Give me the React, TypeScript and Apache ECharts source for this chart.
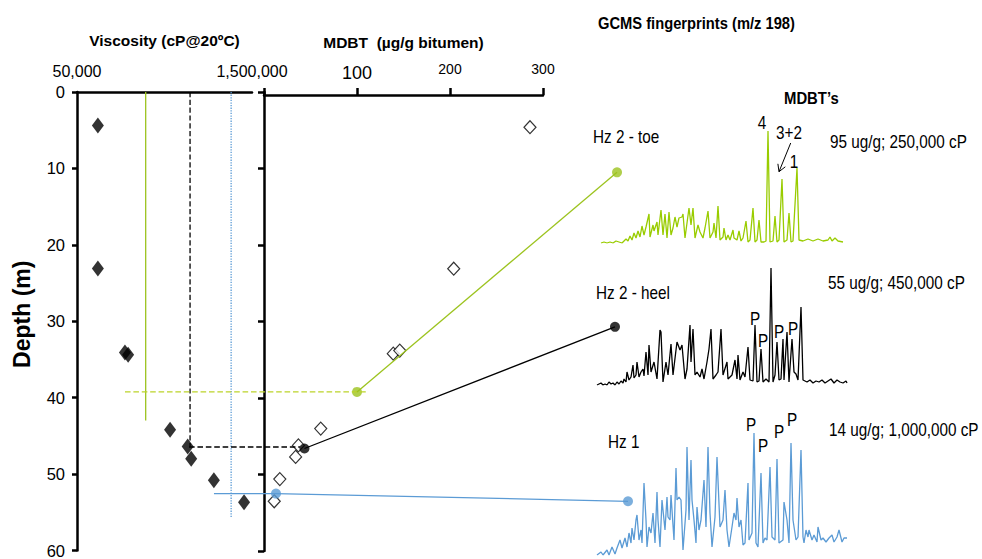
import React, { useEffect, useRef } from 'react';
import * as echarts from 'echarts';

const FONT = "'Liberation Sans', Arial, sans-serif";
const NARROW = 0.85; // horizontal squeeze imitating a condensed face

// ---- Viscosity panel (filled diamonds) ----
const viscDepth = [4.4, 23.1, 34.1, 34.4, 44.2, 46.4, 48.0, 50.8, 53.7];
const viscValue = [75000, 75000, 127000, 135000, 305000, 430000, 460000, 715000, 1285000];
const viscAxisLabels = [50000, 1500000];

// ---- MDBT panel (open diamonds) ----
const mdbtDepth = [4.6, 23.1, 34.2, 33.8, 44.0, 46.2, 47.7, 50.6, 53.5];
const mdbtValue = [286, 204, 139, 146, 61, 37, 34, 17, 11];
const mdbtAxisLabels = [100, 200, 300];

// ---- Samples: toe / heel / Hz 1 ----
const sampleColors = ['#9cc31e', '#000000', '#5b9bd5'];
const guideVisc = [190000, 450000, 1000000];          // vertical guide lines (cP)
const guideBottom = [43, 46.4, 55.7];                 // depth where vertical guide ends
const pickMdbt = [100, 43.5, 12.9];                   // filled dot on MDBT panel
const pickDepth = [39.2, 46.6, 52.5];
const hGuideStart = [-149.5, -80.6, -53.8];           // horizontal guide start (MDBT units, extended)
const hGuideEnd = [111.8, 38.7, 12.9];
const hGuideDepth = [39.2, 46.4, 52.5];
const anchorX = [379.6, 377.4, 391.4];                // fingerprint anchor (MDBT units, extended)
const anchorDepth = [10.5, 30.7, 53.5];

// ---- GCMS fingerprints (m/z 198): [retention offset, intensity] ----
const toeTrace = [[1,0],[4,1],[7,0],[10,1],[13,0],[16,2],[19,1],[22,0],[24,2],[26,4],[28,2],[30,7],[32,3],[34,10],[36,5],[38,12],[40,6],[42,17],[44,8],[46,16],[49,29],[50,6],[53,18],[54,12],[57,21],[58,8],[61,33],[63,8],[65,29],[67,5],[69,31],[71,8],[73,15],[75,26],[77,16],[79,25],[82,26],[83,29],[85,5],[89,35],[91,18],[93,35],[95,5],[98,18],[100,11],[103,5],[105,15],[108,32],[110,5],[113,11],[114,20],[116,5],[118,37],[120,3],[123,6],[124,15],[126,3],[128,8],[130,3],[133,13],[134,5],[137,3],[139,12],[141,2],[143,5],[146,22],[148,1],[150,3],[153,35],[155,1],[157,3],[159,23],[161,1],[164,1],[166,2],[168,112],[170,1],[173,2],[175,27],[177,1],[179,3],[182,64],[184,1],[187,3],[189,30],[191,1],[193,2],[197,75],[199,3],[203,2],[208,4],[213,2],[218,4],[223,2],[228,3],[230,6],[232,2],[235,5],[238,2],[243,1]];
const heelTrace = [[0,0],[4,2],[6,0],[8,1],[10,0],[12,3],[14,1],[16,2],[18,0],[20,3],[22,1],[24,4],[26,2],[27,6],[29,3],[30,13],[32,5],[34,8],[36,20],[37,7],[39,10],[40,23],[42,8],[44,13],[46,16],[47,9],[49,33],[51,10],[52,40],[54,13],[57,23],[60,6],[63,55],[64,53],[66,3],[69,23],[71,10],[74,41],[76,10],[79,35],[80,43],[83,35],[85,40],[88,6],[90,16],[93,60],[94,23],[96,56],[98,10],[100,13],[103,8],[105,16],[107,6],[110,23],[112,36],[114,56],[116,6],[119,10],[121,13],[124,56],[126,10],[130,23],[131,6],[135,10],[138,25],[140,6],[141,30],[143,5],[146,13],[148,8],[151,38],[153,5],[156,4],[158,60],[160,3],[162,4],[164,36],[166,3],[169,6],[172,3],[174,117],[176,3],[178,10],[180,43],[182,5],[184,6],[186,46],[187,5],[190,53],[192,3],[195,46],[197,13],[199,11],[201,5],[204,78],[206,5],[210,3],[213,5],[216,2],[219,4],[222,3],[225,5],[228,2],[231,4],[234,6],[237,2],[240,5],[243,3],[246,2],[249,4],[250,2]];
const hz1Trace = [[0,0],[4,3],[6,0],[10,5],[12,0],[15,8],[18,1],[20,7],[23,15],[25,7],[28,17],[30,8],[32,22],[34,12],[35,27],[37,15],[39,35],[40,40],[42,15],[44,25],[45,12],[47,72],[49,35],[50,8],[52,28],[54,22],[56,42],[58,12],[60,63],[61,35],[63,8],[65,55],[68,25],[70,58],[71,38],[73,35],[74,60],[77,15],[79,87],[80,55],[82,58],[84,55],[86,5],[89,45],[90,108],[92,35],[94,95],[95,55],[97,35],[99,12],[100,48],[102,25],[104,35],[107,75],[109,28],[111,108],[113,42],[115,8],[118,38],[120,98],[123,28],[126,35],[128,65],[130,25],[132,8],[135,28],[137,42],[139,35],[140,57],[142,28],[144,35],[146,10],[148,12],[151,72],[152,15],[155,22],[157,122],[159,12],[161,8],[164,82],[166,12],[168,17],[170,15],[173,88],[175,18],[178,15],[180,96],[182,12],[186,15],[187,53],[190,35],[192,12],[194,112],[196,35],[199,15],[201,18],[204,105],[206,18],[207,12],[209,25],[211,18],[212,25],[215,15],[217,20],[220,13],[221,28],[224,15],[226,17],[229,13],[232,17],[235,20],[237,13],[240,18],[242,25],[245,13],[247,17],[250,17]];
const traceColors = ['#99cc00', '#000000', '#5b9bd5'];

const fmt = (v: number) => Math.round(v).toLocaleString('en-US');

function txt(text: string, x: number, y: number, size: number, align = 'left', bold = false, sx = NARROW) {
  return {
    type: 'text', x, y, scaleX: sx, silent: true,
    style: {
      text, fill: '#000', fontSize: size, fontFamily: FONT, fontWeight: bold ? 'bold' : 'normal',
      textAlign: align, align, textVerticalAlign: 'middle', verticalAlign: 'middle',
    },
  };
}

export default function App() {
  const ref = useRef<HTMLDivElement>(null);
  useEffect(() => {
    document.body.style.margin = '0';
    const chart = echarts.init(ref.current!, null, { renderer: 'svg' });
    const axisLineStyle = { color: '#000', width: 2.5 };

    const series: any[] = [];
    const guideTypes = ['solid', 'dashed', 'dotted'];
    guideVisc.forEach((v, i) => {
      series.push({
        type: 'line', xAxisIndex: 0, yAxisIndex: 0, symbol: 'none', silent: true,
        data: [[v, 0], [v, guideBottom[i]]],
        lineStyle: { color: sampleColors[i], width: 1.3, type: guideTypes[i] },
      });
    });
    const hTypes = ['dashed', 'dashed', 'solid'];
    const hColors = ['#bcd42a', '#000', '#5b9bd5'];
    for (let i = 0; i < 3; i++) {
      series.push({
        type: 'line', xAxisIndex: 2, yAxisIndex: 2, symbol: 'none', silent: true,
        data: [[hGuideStart[i], hGuideDepth[i]], [hGuideEnd[i], hGuideDepth[i]]],
        lineStyle: { color: hColors[i], width: 1.4, type: hTypes[i] },
      });
      series.push({
        type: 'line', xAxisIndex: 2, yAxisIndex: 2, symbol: 'none', silent: true,
        data: [[pickMdbt[i], pickDepth[i]], [anchorX[i], anchorDepth[i]]],
        lineStyle: { color: sampleColors[i], width: 1.3 },
      });
    }
    series.push({
      type: 'scatter', xAxisIndex: 0, yAxisIndex: 0, symbol: 'diamond', symbolSize: [12, 16],
      data: viscValue.map((v, i) => [v, viscDepth[i]]), itemStyle: { color: '#000' },
    });
    series.push({
      type: 'scatter', xAxisIndex: 1, yAxisIndex: 1, symbol: 'diamond', symbolSize: [12, 13],
      data: mdbtValue.map((v, i) => [v, mdbtDepth[i]]),
      itemStyle: { color: '#fff', borderColor: '#000', borderWidth: 1.2 },
    });
    for (let i = 0; i < 3; i++) {
      series.push({
        type: 'scatter', xAxisIndex: 2, yAxisIndex: 2, symbol: 'circle', symbolSize: 10,
        data: [[pickMdbt[i], pickDepth[i]], [anchorX[i], anchorDepth[i]]],
        itemStyle: { color: sampleColors[i] },
      });
    }
    [toeTrace, heelTrace, hz1Trace].forEach((tr, i) => {
      series.push({
        type: 'line', xAxisIndex: 3 + i, yAxisIndex: 3 + i, symbol: 'none', silent: true,
        data: tr, lineStyle: { color: traceColors[i], width: 1.3 },
      });
    });

    const hidden = (gi: number, min: number, max: number, inverse = false) => ({
      gridIndex: gi, type: 'value', min, max, show: false, inverse,
    });

    chart.setOption({
      animation: false,
      backgroundColor: '#fff',
      grid: [
        { left: 77, top: 92, width: 175, height: 459 },
        { left: 264, top: 92, width: 279, height: 459 },
        { left: 78, top: 92, width: 902.1, height: 459 },
        { left: 600, top: 123, width: 243, height: 120 },
        { left: 597, top: 265, width: 250, height: 120 },
        { left: 597, top: 425, width: 250, height: 130 },
      ],
      xAxis: [
        {
          gridIndex: 0, type: 'log', logBase: 10, min: viscAxisLabels[0], max: viscAxisLabels[1], position: 'top',
          axisLine: { onZero: false, lineStyle: axisLineStyle }, axisTick: { show: false }, splitLine: { show: false },
          axisLabel: {
            margin: 13, fontSize: 16, fontFamily: FONT, color: '#000',
            formatter: (v: number) => (viscAxisLabels.some((l) => Math.abs(l - v) < 1) ? fmt(v) : ''),
          },
          name: 'Viscosity (cP@20ºC)', nameLocation: 'middle', nameGap: 44,
          nameTextStyle: { fontWeight: 'bold', fontSize: 15.5, fontFamily: FONT, color: '#000' },
        },
        {
          gridIndex: 1, type: 'value', min: 0, max: 300, interval: 100, position: 'top', offset: -3,
          axisLine: { onZero: false, lineStyle: axisLineStyle },
          axisTick: { show: true, length: 7, lineStyle: { width: 2.5, color: '#000' } },
          splitLine: { show: false },
          axisLabel: {
            margin: 13, color: '#000', fontFamily: FONT,
            formatter: (v: number) => (v === mdbtAxisLabels[0] ? `{b|${v}}` : mdbtAxisLabels.includes(v) ? `{s|${v}}` : ''),
            rich: {
              b: { fontSize: 18, fontFamily: FONT, color: '#000' },
              s: { fontSize: 14, fontFamily: FONT, color: '#000', padding: [0, 0, 6, 0] },
            },
          },
          name: 'MDBT  (µg/g bitumen)', nameLocation: 'middle', nameGap: 45,
          nameTextStyle: { fontWeight: 'bold', fontSize: 15.5, fontFamily: FONT, color: '#000' },
        },
        hidden(2, -200, 770),
        hidden(3, 0, 243),
        hidden(4, 0, 250),
        hidden(5, 0, 250),
      ],
      yAxis: [
        {
          gridIndex: 0, type: 'value', inverse: true, min: 0, max: 60, interval: 10,
          axisLine: { show: true, onZero: false, lineStyle: axisLineStyle },
          axisTick: { show: true, length: 5, lineStyle: { width: 2.5, color: '#000' } },
          splitLine: { show: false },
          axisLabel: { margin: 12, fontSize: 16.5, fontFamily: FONT, color: '#000' },
          name: 'Depth (m)', nameLocation: 'middle', nameGap: 44, nameRotate: 90,
          nameTextStyle: { fontWeight: 'bold', fontSize: 23, fontFamily: FONT, color: '#000', padding: [0, 0, 0, 14] },
        },
        {
          gridIndex: 1, type: 'value', inverse: true, min: 0, max: 60, interval: 10,
          axisLine: { show: true, onZero: false, lineStyle: axisLineStyle },
          axisTick: { show: true, length: 6, lineStyle: { width: 2.5, color: '#000' } },
          splitLine: { show: false }, axisLabel: { show: false },
        },
        hidden(2, 0, 60, true),
        hidden(3, 0, 120),
        hidden(4, 0, 120),
        hidden(5, 0, 130),
      ],
      series,
      graphic: [
        txt('GCMS fingerprints (m/z 198)', 598, 23, 16, 'left', true, 0.92),
        txt('MDBT’s', 784, 98, 16, 'left', true, 0.93),
        txt('Hz 2 - toe', 593, 137, 18),
        txt('95 ug/g; 250,000 cP', 830, 142, 18),
        txt('4', 762, 123, 18, 'center'),
        txt('3+2', 789, 133, 18, 'center'),
        txt('1', 794, 162, 18, 'center'),
        { type: 'line', silent: true, shape: { x1: 790.7, y1: 143, x2: 779, y2: 171.7 }, style: { stroke: '#000', lineWidth: 1 } },
        { type: 'polyline', silent: true, shape: { points: [[785.3, 166.8], [779, 171.7], [777.9, 163.8]] }, style: { stroke: '#000', lineWidth: 1, fill: 'none' } },
        txt('Hz 2 - heel', 596, 293, 18),
        txt('55 ug/g; 450,000 cP', 828, 283, 18),
        txt('P', 755, 319, 18, 'center'),
        txt('P', 763, 341, 18, 'center'),
        txt('P', 779, 332, 18, 'center'),
        txt('P', 793, 329, 18, 'center'),
        txt('Hz 1', 608, 442, 18),
        txt('14 ug/g; 1,000,000 cP', 829, 430, 18),
        txt('P', 751, 425, 18, 'center'),
        txt('P', 763, 446, 18, 'center'),
        txt('P', 779, 432, 18, 'center'),
        txt('P', 792, 420, 18, 'center'),
      ],
    });
    return () => chart.dispose();
  }, []);
  return <div ref={ref} style={{ width: 982, height: 559 }} />;
}
